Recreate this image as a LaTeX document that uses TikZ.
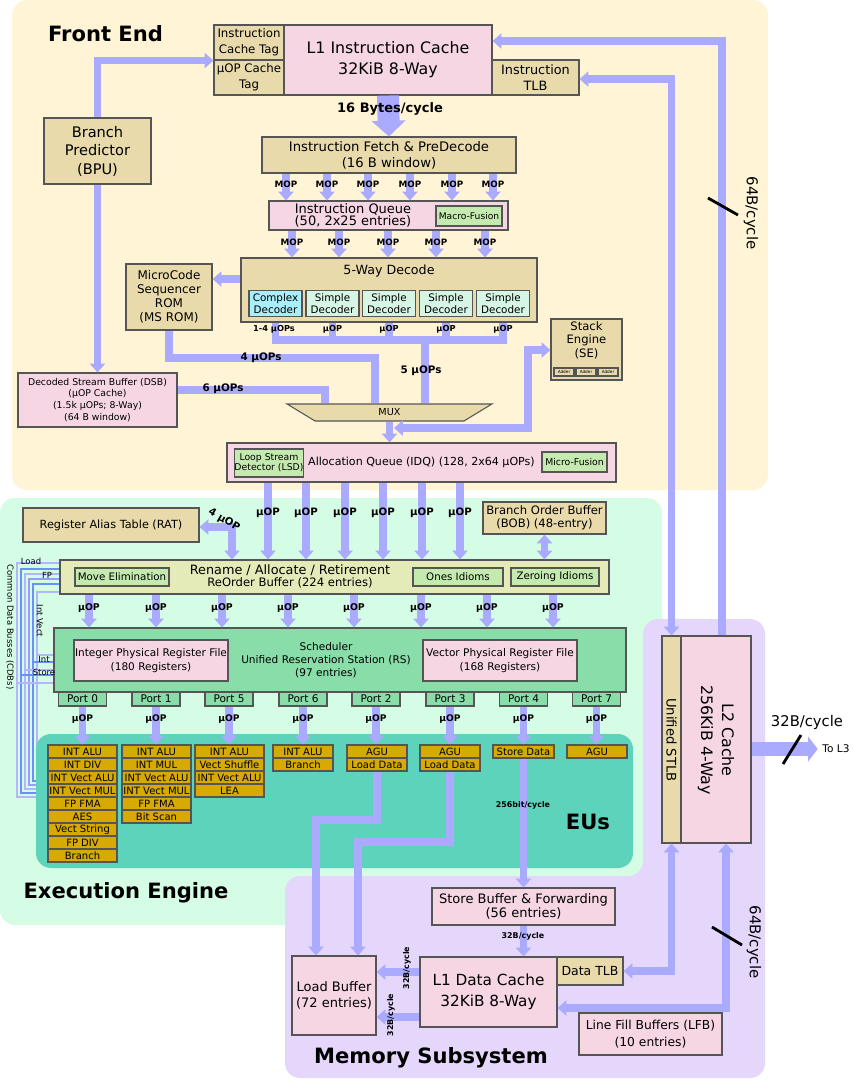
\documentclass[tikz,border=0pt]{standalone}
\usepackage{fontspec}
\setmainfont{DejaVu Sans}
\usetikzlibrary{arrows.meta,shapes.geometric}

\definecolor{feback}{RGB}{255,245,214}
\definecolor{eeback}{RGB}{213,252,229}
\definecolor{euback}{RGB}{94,211,187}
\definecolor{msback}{RGB}{229,214,252}
\definecolor{flowc}{RGB}{170,170,255}
\definecolor{tanc}{RGB}{232,218,170}
\definecolor{pinkc}{RGB}{245,214,226}
\definecolor{grnc}{RGB}{196,234,176}
\definecolor{robc}{RGB}{228,234,184}
\definecolor{schc}{RGB}{136,221,168}
\definecolor{cplxc}{RGB}{170,238,250}
\definecolor{smplc}{RGB}{214,245,228}
\definecolor{eugold}{RGB}{214,170,0}
\definecolor{boxline}{RGB}{85,85,85}
\definecolor{cdbl}{RGB}{180,180,255}
\definecolor{cdbb}{RGB}{106,144,255}
\definecolor{cdbp}{RGB}{154,154,255}

\newcommand{\fsz}[2]{\fontsize{#1pt}{#2pt}\selectfont}

\begin{document}
\begin{tikzpicture}[x=0.02cm, y=-0.02cm, >={Triangle[width=8.5pt,length=5pt]},
	wh/.style 2 args={minimum width=#1*0.02cm, minimum height=#2*0.02cm},
	box/.style={draw=boxline, line width=0.6pt, inner sep=0pt, align=center},
	tanbox/.style={box, fill=tanc},
	pinkbox/.style={box, fill=pinkc},
	grnbox/.style={box, fill=grnc},
	eu/.style={box, fill=eugold, font=\fsz{5.7}{6}},
	port/.style={box, fill=schc, wh={48}{14}, font=\fsz{6}{7}},
	flow/.style={draw=flowc, line width=4.5pt},
	lbl/.style={inner sep=0pt, align=center},
	uop/.style={lbl, font=\bfseries\fsz{5.4}{6}},
	bigtitle/.style={lbl, font=\bfseries\fsz{12}{14}},
	cdb/.style={line width=0.8pt},
	slash/.style={line width=1.6pt}]

	\useasboundingbox (0,0) rectangle (853,1080);

	\fill[feback, rounded corners=0.3cm] (12,0) rectangle (768,490);

	\fill[eeback, rounded corners=0.3cm] (0,498) rectangle (662,925);

	\foreach \x/\ya/\yb/\c in {17/563/797/cdbl, 21/569/793/cdbb, 25/574/789/cdbl, 29/579/785/cdbp, 33/584/781/cdbb, 37/592/777/cdbl}
		\draw[cdb, \c] (60,\ya) -| (\x,\yb) -- (48,\yb);

	\foreach \x/\y/\c in {37/655/cdbl, 33/662/cdbb, 25/670/cdbl, 21/675/cdbb, 17/683/cdbl}
		\draw[cdb, \c] (\x,\y) -- (55,\y);

	\fill[msback, rounded corners=0.3cm] (643,619) -- (765,619) -- (765,1078) -- (285,1078) -- (285,876) -- (643,876) -- cycle;

	\fill[euback, rounded corners=0.3cm] (36,734) rectangle (633,868);

	\node[bigtitle] (fetitle) at (105.5,33.5) {Front End};

	\node[tanbox, wh={70}{35}, font=\fsz{6.7}{9}] (ictag) at (249,42.5) {Instruction\\Cache Tag};

	\node[tanbox, wh={70}{35}, font=\fsz{6.7}{9}] (uoptag) at (249,77.5) {µOP Cache\\Tag};

	\node[pinkbox, wh={208}{70}, font=\fsz{9}{12}] (l1i) at (388,60) {L1 Instruction Cache\\32KiB 8-Way};

	\node[tanbox, wh={87}{35}, font=\fsz{7.3}{9}] (itlb) at (535.5,77.5) {Instruction\\TLB};

	\node[tanbox, wh={107}{66}, font=\fsz{8.3}{10.5}] (bpu) at (97.5,151) {Branch\\Predictor\\(BPU)};

	\node[tanbox, wh={254}{36}, font=\fsz{7.5}{9}] (fetch) at (389,155) {Instruction Fetch \& PreDecode\\(16 B window)};

	\node[pinkbox, wh={239}{29}] (iq) at (388.5,215.5) {};

	\node[lbl, font=\fsz{7.4}{6.8}] (iqtext) at (353,215) {Instruction Queue\\(50, 2x25 entries)};

	\node[grnbox, wh={66}{20}, font=\fsz{5.2}{6}] (macro) at (469,216) {Macro-Fusion};

	\node[tanbox, wh={296}{64}] (decode) at (389,290) {};

	\node[lbl, font=\fsz{7.2}{8}] (decodetext) at (389,271) {5-Way Decode};

	\node[box, fill=cplxc, wh={53}{26}, font=\fsz{5.9}{7}] (dec1) at (275.5,303.5) {Complex\\Decoder};

	\node[box, fill=smplc, wh={53}{26}, font=\fsz{5.9}{7}] (dec2) at (332.5,303.5) {Simple\\Decoder};

	\node[box, fill=smplc, wh={53}{26}, font=\fsz{5.9}{7}] (dec3) at (389,303.5) {Simple\\Decoder};

	\node[box, fill=smplc, wh={53}{26}, font=\fsz{5.9}{7}] (dec4) at (446,303.5) {Simple\\Decoder};

	\node[box, fill=smplc, wh={53}{26}, font=\fsz{5.9}{7}] (dec5) at (503,303.5) {Simple\\Decoder};

	\node[tanbox, wh={86}{66}, font=\fsz{6.8}{7.9}] (msrom) at (169,297) {MicroCode\\Sequencer\\ROM\\(MS ROM)};

	\node[tanbox, wh={71}{61}] (se) at (586.5,349.5) {};

	\node[lbl, font=\fsz{6.6}{7.6}] (setext) at (586.5,340) {Stack\\Engine\\(SE)};

	\node[tanbox, wh={20}{8}, font=\fsz{2.4}{3}] (add1) at (564,372) {Adder};

	\node[tanbox, wh={20}{8}, font=\fsz{2.4}{3}] (add2) at (586,372) {Adder};

	\node[tanbox, wh={20}{8}, font=\fsz{2.4}{3}] (add3) at (608,372) {Adder};

	\node[pinkbox, wh={159}{54}, font=\fsz{5.3}{6.8}] (dsb) at (97.5,400) {Decoded Stream Buffer (DSB)\\(µOP Cache)\\(1.5k µOPs; 8-Way)\\(64 B window)};

	\node[tanbox, trapezium, trapezium angle=60, shape border rotate=180, trapezium stretches=true, wh={205}{17}, font=\fsz{5.5}{6}] (mux) at (389.5,412.5) {MUX};

	\node[pinkbox, wh={389}{39}, font=\fsz{6.3}{7}] (idq) at (421.5,462.5) {Allocation Queue (IDQ) (128, 2x64 µOPs)};

	\node[grnbox, wh={66}{28}, font=\fsz{5.3}{5.7}] (lsd) at (269,463) {Loop Stream\\Detector (LSD)};

	\node[grnbox, wh={65}{20}, font=\fsz{5.3}{6}] (mfus) at (574.5,462) {Micro-Fusion};

	\draw[flow, ->] (bpu.north) |- (ictag.south west);

	\draw[flow, ->] (bpu.south) -- (dsb.north);

	\draw[draw=flowc, line width=12.5pt, -{Triangle[width=19pt,length=9pt]}] (l1i.south) -- (fetch.north);

	\node[lbl, font=\bfseries\fsz{7.4}{8}] (bytes) at (390,109) {16 Bytes/cycle};

	\foreach \x [count=\i] in {286,327,368,410,452,493} {
		\draw[flow, ->] (\x,0 |- fetch.south) -- (\x,0 |- iq.north);
		\node[uop, font=\bfseries\fsz{5}{6}] (mopa\i) at (\x,184) {MOP};
	}

	\foreach \x [count=\i] in {292,339,388,436,485} {
		\draw[flow, ->] (\x,0 |- iq.south) -- (\x,0 |- decode.north);
		\node[uop, font=\bfseries\fsz{5}{6}] (mopb\i) at (\x,242) {MOP};
	}

	\draw[flow, ->] (decode.west |- 0,279) -- (msrom.east |- 0,279);

	\draw[flow] (dec1 |- decode.south) -- (dec1 |- 0,340) -- (dec5 |- 0,340) -- (dec5 |- decode.south);

	\foreach \n in {dec2,dec3,dec4}
		\draw[flow] (\n |- decode.south) -- (\n |- 0,340);

	\coordinate (busmid) at (425,340);

	\draw[flow] (busmid) -- (busmid |- mux.north);

	\draw[flow] (msrom.south) |- (375,358) -- (375,0 |- mux.north);

	\draw[flow] (dsb.east |- 0,390) -| (325,0 |- mux.north);

	\draw[flow, ->] (mux.south) -- (mux.south |- idq.north);

	\coordinate (idqin) at (394,428);

	\draw[flow, <->] (idqin) -- (528,428) |- (se.west |- 0,350);

	\node[uop, font=\bfseries\fsz{4.7}{5}] (uopd1) at (274,329) {1-4 µOPs};

	\foreach \n in {dec2,dec3,dec4,dec5}
		\node[uop, font=\bfseries\fsz{4.7}{5}] (uop\n) at (\n |- 0,329) {µOP};

	\node[uop, font=\bfseries\fsz{5.9}{6}] (uop5) at (421,371) {5 µOPs};

	\node[uop, font=\bfseries\fsz{5.9}{6}] (uop4) at (261,358) {4 µOPs};

	\node[uop, font=\bfseries\fsz{5.9}{6}] (uop6) at (223,389) {6 µOPs};

	\node[tanbox, wh={176}{34}, font=\fsz{6.4}{7}] (rat) at (111,525) {Register Alias Table (RAT)};

	\node[tanbox, wh={123}{32}, font=\fsz{6.6}{7.2}] (bob) at (544.5,518) {Branch Order Buffer\\(BOB) (48-entry)};

	\node[box, fill=robc, wh={549}{34}] (rob) at (334.5,577) {};

	\node[lbl, font=\fsz{7.3}{8}] (robtitle) at (290,570) {Rename / Allocate / Retirement};

	\node[lbl, font=\fsz{6.6}{7}] (robsub) at (290,583) {ReOrder Buffer (224 entries)};

	\node[grnbox, wh={94}{18}, font=\fsz{5.85}{6}] (moveel) at (122,577) {Move Elimination};

	\node[grnbox, wh={90}{18}, font=\fsz{5.85}{6}] (ones) at (458,577) {Ones Idioms};

	\node[grnbox, wh={88}{18}, font=\fsz{5.85}{6}] (zero) at (555,577) {Zeroing Idioms};

	\node[box, fill=schc, wh={572}{64}] (sched) at (340,660) {};

	\node[lbl, font=\fsz{6}{7.4}] (schedtext) at (326,660) {Scheduler\\Unified Reservation Station (RS)\\(97 entries)};

	\node[pinkbox, wh={154}{41}, font=\fsz{6}{7.6}] (intprf) at (151,660.5) {Integer Physical Register File\\(180 Registers)};

	\node[pinkbox, wh={154}{41}, font=\fsz{6}{7.6}] (vecprf) at (500,660.5) {Vector Physical Register File\\(168 Registers)};

	\node[port] (p0) at (82.5,699) {Port 0};

	\node[port] (p1) at (156,699) {Port 1};

	\node[port] (p5) at (229,699) {Port 5};

	\node[port] (p6) at (303,699) {Port 6};

	\node[port] (p2) at (376,699) {Port 2};

	\node[port] (p3) at (450,699) {Port 3};

	\node[port] (p4) at (523.5,699) {Port 4};

	\node[port] (p7) at (596.5,699) {Port 7};

	\foreach \lab [count=\i] in {INT ALU,INT DIV,INT Vect ALU,INT Vect MUL,FP FMA,AES,Vect String,FP DIV,Branch}
		\node[eu, wh={69}{13}] (eua\i) at (82.5,738.5+13*\i) {\lab};

	\foreach \lab [count=\i] in {INT ALU,INT MUL,INT Vect ALU,INT Vect MUL,FP FMA,Bit Scan}
		\node[eu, wh={69}{13}] (eub\i) at (156.5,738.5+13*\i) {\lab};

	\foreach \lab [count=\i] in {INT ALU,Vect Shuffle,INT Vect ALU,LEA}
		\node[eu, wh={69}{13}] (euc\i) at (229.5,738.5+13*\i) {\lab};

	\foreach \lab [count=\i] in {INT ALU,Branch}
		\node[eu, wh={60}{13}] (eud\i) at (303,738.5+13*\i) {\lab};

	\foreach \lab [count=\i] in {AGU,Load Data}
		\node[eu, wh={60}{13}] (eue\i) at (377,738.5+13*\i) {\lab};

	\foreach \lab [count=\i] in {AGU,Load Data}
		\node[eu, wh={60}{13}] (euf\i) at (450,738.5+13*\i) {\lab};

	\node[eu, wh={61}{13}] (eug1) at (523.5,751.5) {Store Data};

	\node[eu, wh={60}{13}] (euh1) at (597,751.5) {AGU};

	\node[bigtitle] (eus) at (588,822) {EUs};

	\node[bigtitle] (eetitle) at (126,893) {Execution Engine};

	\foreach \x [count=\i] in {268,306,345,383,422,460} {
		\draw[flow, ->] (\x,0 |- idq.south) -- (\x,0 |- rob.north);
		\node[uop, font=\bfseries\fsz{5.8}{6}] (uopa\i) at (\x,513) {µOP};
	}

	\draw[flow, <->] (232,0 |- rob.north) |- (rat.east |- 0,527);

	\node[uop, font=\bfseries\fsz{5.8}{6}, rotate=-30] (uoprat) at (224,520) {4 µOP};

	\draw[flow, <->] (bob.south) -- (bob.south |- rob.north);

	\foreach \x [count=\i] in {89,156,222,288,354,421,487,553} {
		\draw[flow, ->] (\x,0 |- rob.south) -- (\x,0 |- sched.north);
		\node[uop, font=\bfseries\fsz{5.3}{6}] (uopb\i) at (\x,608) {µOP};
	}

	\foreach \p/\e [count=\i] in {p0/eua1,p1/eub1,p5/euc1,p6/eud1,p2/eue1,p3/euf1,p4/eug1,p7/euh1} {
		\draw[flow, ->] (\p.south) -- (\p.south |- \e.north);
		\node[uop, font=\bfseries\fsz{5.2}{6}] (uopc\i) at (\p.south |- 0,719) {µOP};
	}

	\node[lbl, font=\fsz{4.8}{5}] (cdbload) at (31,561) {Load};

	\node[lbl, font=\fsz{4.8}{5}] (cdbfp) at (47,575) {FP};

	\node[lbl, font=\fsz{4.8}{5}, rotate=-90] (cdbvec) at (40,621) {Int Vect};

	\node[lbl, font=\fsz{4.8}{5}] (cdbint) at (44,659) {Int};

	\node[lbl, font=\fsz{4.8}{5}] (cdbstore) at (44,672) {Store};

	\node[lbl, font=\fsz{4.8}{5}, rotate=-90] (cdbtext) at (10,627) {Common Data Busses (CDBs)};

	\node[tanbox, wh={19}{207}] (stlb) at (671.5,739.5) {};

	\node[lbl, font=\fsz{7.5}{8}, rotate=-90] (stlbtext) at (671.5,740) {Unified STLB};

	\node[pinkbox, wh={70}{207}] (l2) at (716,739.5) {};

	\node[lbl, font=\fsz{9}{12}, rotate=-90] (l2text) at (716,740) {L2 Cache\\256KiB 4-Way};

	\node[lbl, font=\fsz{6}{7}] (tol3) at (836,749) {To L3};

	\draw[draw=flowc, line width=8pt, -{Triangle[width=14pt,length=5.5pt]}, shorten >=2.5pt] (l2.east |- 0,749) -- (tol3.west);

	\node[lbl, font=\fsz{8.4}{9}] (bwl3) at (807,722) {32B/cycle};

	\draw[slash] (783,764) -- (801,735);

	\draw[flow, ->] (722,0 |- l2.north) |- (l1i.east |- 0,41);

	\draw[flow, <->] (stlb.north) |- (itlb.east |- 0,79);

	\node[lbl, font=\fsz{8.5}{9}, rotate=-90] (bwfe) at (751,213) {64B/cycle};

	\draw[slash] (708,198) -- (738,215);

	\node[tanbox, wh={66}{28}, font=\fsz{7.1}{8}] (dtlb) at (590,971) {Data TLB};

	\node[pinkbox, wh={137}{70}, font=\fsz{8.7}{11.9}] (l1d) at (488.5,992) {L1 Data Cache\\32KiB 8-Way};

	\node[pinkbox, wh={143}{42}, font=\fsz{7}{9.3}] (lfb) at (650.5,1034) {Line Fill Buffers (LFB)\\(10 entries)};

	\node[pinkbox, wh={183}{37}, font=\fsz{7.4}{7.9}] (stb) at (523.5,906.5) {Store Buffer \& Forwarding\\(56 entries)};

	\node[pinkbox, wh={84}{79}, font=\fsz{7.4}{8.9}] (ldb) at (334,995.5) {Load Buffer\\(72 entries)};

	\draw[flow, <->] (dtlb.east) -| (stlb.south);

	\draw[flow, <->] (726,0 |- l2.south) |- (l1d.east |- 0,1008);

	\node[lbl, font=\fsz{8.5}{9}, rotate=-90] (bwms) at (754,942) {64B/cycle};

	\draw[slash] (712,927) -- (742,945);

	\draw[flow, ->] (eug1.south) -- (stb.north);

	\node[lbl, font=\bfseries\fsz{4.5}{5}] (bwst) at (523,805) {256bit/cycle};

	\draw[flow, ->] (stb.south) -- (stb.south |- l1d.north);

	\node[lbl, font=\bfseries\fsz{4.5}{5}] (bwstb) at (523,936) {32B/cycle};

	\draw[flow, ->] (eue2.south) -- (eue2.south |- 0,820) -| (316,0 |- ldb.north);

	\draw[flow, ->] (euf2.south) -- (euf2.south |- 0,842) -| (358,0 |- ldb.north);

	\draw[flow, ->] (l1d.west |- 0,972) -- (ldb.east |- 0,972);

	\draw[flow, ->] (l1d.west |- 0,1017) -- (ldb.east |- 0,1017);

	\node[lbl, font=\bfseries\fsz{4.5}{5}, rotate=90] (bwld1) at (407,968) {32B/cycle};

	\node[lbl, font=\bfseries\fsz{4.5}{5}, rotate=90] (bwld2) at (391,1015) {32B/cycle};

	\node[bigtitle] (mstitle) at (431,1058) {Memory Subsystem};

\end{tikzpicture}
\end{document}
